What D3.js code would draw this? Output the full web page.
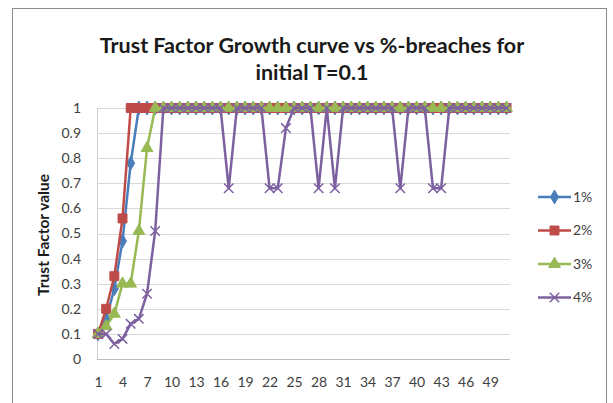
<!DOCTYPE html>
<html>
<head>
<meta charset="utf-8">
<script src="https://cdn.jsdelivr.net/npm/d3@7"></script>
<style>
  body { margin: 0; background: #fff; }
  svg { display: block; font-family: Lato, "Open Sans", sans-serif; }
</style>
</head>
<body>
<svg id="chart" width="613" height="403"></svg>
<script>
var seriesNames = ["1%", "2%", "3%", "4%"]

// category labels 1..51, only every 3rd is shown on the axis
var categories = d3.range(1, 52)
var xTickLabels = [1, 4, 7, 10, 13, 16, 19, 22, 25, 28, 31, 34, 37, 40, 43, 46, 49]
var yTicks = [0, 0.1, 0.2, 0.3, 0.4, 0.5, 0.6, 0.7, 0.8, 0.9, 1]

var s1 = [0.1, 0.16, 0.28, 0.47, 0.78, 1, 1, 1, 1, 1,
          1, 1, 1, 1, 1, 1, 1, 1, 1, 1,
          1, 1, 1, 1, 1, 1, 1, 1, 1, 1,
          1, 1, 1, 1, 1, 1, 1, 1, 1, 1,
          1, 1, 1, 1, 1, 1, 1, 1, 1, 1, 1]
var s2 = [0.1, 0.2, 0.33, 0.56, 1, 1, 1, 1, 1, 1,
          1, 1, 1, 1, 1, 1, 1, 1, 1, 1,
          1, 1, 1, 1, 1, 1, 1, 1, 1, 1,
          1, 1, 1, 1, 1, 1, 1, 1, 1, 1,
          1, 1, 1, 1, 1, 1, 1, 1, 1, 1, 1]
var s3 = [0.1, 0.13, 0.18, 0.3, 0.3, 0.51, 0.84, 1, 1, 1,
          1, 1, 1, 1, 1, 1, 1, 1, 1, 1,
          1, 1, 1, 1, 1, 1, 1, 1, 1, 1,
          1, 1, 1, 1, 1, 1, 1, 1, 1, 1,
          1, 1, 1, 1, 1, 1, 1, 1, 1, 1, 1]
var s4 = [0.1, 0.1, 0.06, 0.08, 0.14, 0.16, 0.26, 0.51, 1, 1,
          1, 1, 1, 1, 1, 1, 0.68, 1, 1, 1,
          1, 0.68, 0.68, 0.92, 1, 1, 1, 0.68, 1, 0.68,
          1, 1, 1, 1, 1, 1, 1, 0.68, 1, 1,
          1, 0.68, 0.68, 1, 1, 1, 1, 1, 1, 1, 1]

var colors = ["#4A7EBB", "#BE4B48", "#98B954", "#7D60A0"]
var symbols = [d3.symbolDiamond, d3.symbolSquare, d3.symbolTriangle, d3.symbolX]

var svg = d3.select("svg#chart")

// chart frame
svg.append("rect")
    .attr("x", 12.5).attr("y", 8.5)
    .attr("width", 594).attr("height", 430)
    .attr("fill", "#fff").attr("stroke", "#8c8c8c").attr("stroke-width", 1)

var x = d3.scalePoint().domain(categories).range([98, 506.5])
var y = d3.scaleLinear().domain([0, 1]).range([359, 108])

// gridlines
svg.append("g").selectAll("line").data(yTicks).enter().append("line")
    .attr("x1", 97).attr("x2", 510)
    .attr("y1", function(d) { return Math.round(y(d)) + 0.5 })
    .attr("y2", function(d) { return Math.round(y(d)) + 0.5 })
    .attr("stroke", function(d) { return d == 0 ? "#bdbdbd" : "#d9d9d9" })
    .attr("stroke-width", 1.2)

svg.append("line")
    .attr("x1", 97.5).attr("x2", 97.5).attr("y1", y(1)).attr("y2", y(0))
    .attr("stroke", "#d0d0d0")

// y axis labels
var yAxis = d3.axisLeft(y).tickValues(yTicks).tickSize(0).tickPadding(0)
    .tickFormat(function(d) { return d3.format("")(+d.toFixed(1)) })
svg.append("g").attr("transform", "translate(81,0)").call(yAxis)
    .call(function(g) { g.select(".domain").remove() })
    .selectAll("text").attr("font-size", 14).attr("fill", "#404040")
    .attr("font-family", "Lato, sans-serif")

// x axis labels
var xAxis = d3.axisBottom(x).tickValues(xTickLabels).tickSize(0).tickPadding(0)
svg.append("g").attr("transform", "translate(0,377)").call(xAxis)
    .call(function(g) { g.select(".domain").remove() })
    .selectAll("text").attr("font-size", 14).attr("fill", "#404040")
    .attr("font-family", "Lato, sans-serif")

// title
var title = svg.append("text").attr("text-anchor", "middle")
    .attr("font-weight", "bold").attr("font-size", 21.5).attr("fill", "#1a1a1a")
title.append("tspan").attr("x", 312).attr("y", 53).text("Trust Factor Growth curve vs %-breaches for")
title.append("tspan").attr("x", 312).attr("y", 80).text("initial T=0.1")

// y axis title
svg.append("text")
    .attr("transform", "translate(49,235) rotate(-90)")
    .attr("text-anchor", "middle")
    .attr("font-weight", "bold").attr("font-size", 15.5).attr("fill", "#1a1a1a")
    .text("Trust Factor value")

var allSeries = [s1, s2, s3, s4]
var line = d3.line()
    .x(function(d, i) { return x(categories[i]) })
    .y(function(d) { return y(d) })

var markerSizes = [55, 80, 60, 60]

allSeries.forEach(function(vals, si) {
    var g = svg.append("g")
    g.append("path").datum(vals)
        .attr("d", line)
        .attr("fill", "none")
        .attr("stroke", colors[si])
        .attr("stroke-width", 2.5)
        .attr("stroke-linejoin", "round")
    g.selectAll("path.pt").data(vals).enter().append("path")
        .attr("class", "pt")
        .attr("transform", function(d, i) { return "translate(" + x(categories[i]) + "," + y(d) + ")" })
        .attr("d", d3.symbol().type(symbols[si]).size(markerSizes[si]))
        .attr("fill", si == 3 ? "none" : colors[si])
        .attr("stroke", colors[si])
        .attr("stroke-width", si == 3 ? 1.5 : 1)
})

// legend
var legend = svg.append("g")
seriesNames.forEach(function(name, i) {
    var ly = 197 + i * 33.5
    legend.append("line")
        .attr("x1", 538).attr("x2", 571).attr("y1", ly).attr("y2", ly)
        .attr("stroke", colors[i]).attr("stroke-width", 2.5)
    legend.append("path")
        .attr("transform", "translate(554.5," + ly + ")")
        .attr("d", d3.symbol().type(symbols[i]).size(markerSizes[i]))
        .attr("fill", i == 3 ? "none" : colors[i])
        .attr("stroke", colors[i])
        .attr("stroke-width", i == 3 ? 1.5 : 1)
    legend.append("text")
        .attr("x", 573).attr("y", ly).attr("dy", "0.35em")
        .attr("font-size", 14).attr("fill", "#404040")
        .text(name)
})
</script>
</body>
</html>
